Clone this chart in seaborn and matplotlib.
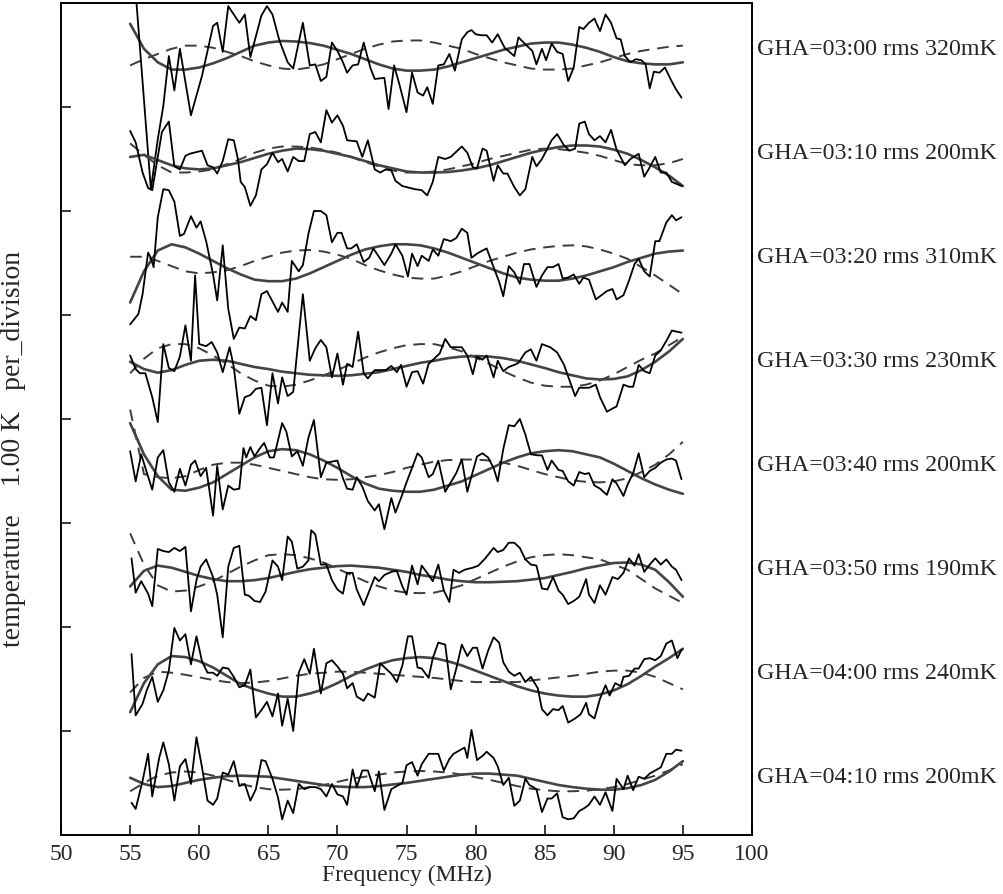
import numpy as np
import pandas as pd
import matplotlib
matplotlib.use("Agg")
import matplotlib.pyplot as plt
import matplotlib.transforms as mtransforms
import seaborn as sns

# ---- labels -------------------------------------------------------------
gha = ["03:00", "03:10", "03:20", "03:30", "03:40", "03:50", "04:00", "04:10"]
rms_mk = [320, 200, 310, 230, 200, 190, 240, 200]

# ---- smooth fits (K, every 1 MHz from 55 to 95) ---------------------------
fit_freq = list(range(55, 96))

solid_0 = [0.30, 0.06, -0.07, -0.14, -0.14, -0.12, -0.08, -0.03, 0.03, 0.09, 0.12, 0.135, 0.13, 0.115, 0.09, 0.05, 0.01, -0.04, -0.09, -0.13, -0.15, -0.15, -0.14, -0.11, -0.07, -0.03, 0.01, 0.05, 0.08, 0.11, 0.12, 0.12, 0.10, 0.07, 0.03, -0.02, -0.06, -0.08, -0.09, -0.09, -0.07]
solid_1 = [0.02, 0.04, -0.01, -0.06, -0.09, -0.10, -0.09, -0.06, -0.03, 0.01, 0.05, 0.08, 0.10, 0.095, 0.08, 0.05, 0.02, -0.02, -0.06, -0.09, -0.12, -0.13, -0.13, -0.125, -0.11, -0.09, -0.06, -0.02, 0.02, 0.06, 0.09, 0.115, 0.13, 0.13, 0.12, 0.09, 0.05, -0.01, -0.08, -0.16, -0.26]
solid_2 = [-0.38, -0.08, 0.12, 0.18, 0.15, 0.09, 0.02, -0.05, -0.11, -0.16, -0.175, -0.175, -0.15, -0.10, -0.04, 0.02, 0.08, 0.13, 0.16, 0.18, 0.18, 0.17, 0.14, 0.10, 0.05, 0.00, -0.05, -0.10, -0.14, -0.16, -0.17, -0.17, -0.15, -0.12, -0.08, -0.04, 0.01, 0.05, 0.09, 0.11, 0.12]
solid_3 = [0.05, -0.02, -0.055, -0.03, 0.02, 0.06, 0.07, 0.06, 0.03, 0.00, -0.02, -0.045, -0.06, -0.075, -0.08, -0.085, -0.08, -0.065, -0.05, -0.02, 0.01, 0.04, 0.06, 0.085, 0.10, 0.105, 0.10, 0.085, 0.06, 0.025, -0.01, -0.05, -0.08, -0.11, -0.12, -0.115, -0.09, -0.03, 0.05, 0.15, 0.27]
solid_4 = [0.46, 0.16, -0.05, -0.18, -0.19, -0.16, -0.11, -0.03, 0.05, 0.13, 0.19, 0.21, 0.20, 0.16, 0.10, 0.03, -0.05, -0.12, -0.17, -0.19, -0.20, -0.20, -0.18, -0.14, -0.10, -0.04, 0.02, 0.08, 0.13, 0.17, 0.19, 0.20, 0.19, 0.16, 0.13, 0.07, 0.00, -0.07, -0.13, -0.18, -0.22]
solid_5 = [-0.11, 0.04, 0.09, 0.07, 0.03, -0.01, -0.04, -0.06, -0.06, -0.05, -0.03, 0.00, 0.03, 0.055, 0.07, 0.085, 0.09, 0.08, 0.07, 0.05, 0.03, 0.00, -0.02, -0.045, -0.06, -0.07, -0.07, -0.065, -0.06, -0.045, -0.03, 0.00, 0.03, 0.065, 0.09, 0.115, 0.12, 0.10, 0.05, -0.07, -0.21]
solid_6 = [-0.32, -0.04, 0.14, 0.22, 0.21, 0.17, 0.11, 0.03, -0.05, -0.10, -0.14, -0.17, -0.17, -0.14, -0.10, -0.04, 0.03, 0.09, 0.14, 0.18, 0.20, 0.21, 0.20, 0.17, 0.13, 0.08, 0.03, -0.02, -0.07, -0.11, -0.14, -0.16, -0.17, -0.17, -0.15, -0.11, -0.05, 0.03, 0.12, 0.20, 0.29]
solid_7 = [0.05, -0.01, -0.04, -0.03, 0.00, 0.03, 0.05, 0.065, 0.07, 0.065, 0.06, 0.04, 0.02, 0.00, -0.02, -0.035, -0.04, -0.04, -0.03, -0.015, 0.00, 0.02, 0.04, 0.06, 0.08, 0.09, 0.09, 0.08, 0.07, 0.04, 0.01, -0.02, -0.04, -0.055, -0.065, -0.065, -0.05, -0.02, 0.03, 0.11, 0.21]

dash_0 = [-0.10, -0.04, 0.01, 0.06, 0.09, 0.09, 0.07, 0.03, -0.01, -0.06, -0.10, -0.13, -0.14, -0.12, -0.09, -0.04, 0.01, 0.06, 0.10, 0.13, 0.14, 0.14, 0.12, 0.09, 0.06, 0.01, -0.03, -0.07, -0.10, -0.13, -0.14, -0.14, -0.13, -0.10, -0.07, -0.03, 0.01, 0.04, 0.06, 0.08, 0.09]
dash_1 = [0.15, 0.04, -0.06, -0.13, -0.13, -0.12, -0.10, -0.05, 0.00, 0.06, 0.10, 0.12, 0.12, 0.11, 0.09, 0.06, 0.02, -0.03, -0.07, -0.11, -0.13, -0.13, -0.12, -0.10, -0.07, -0.04, 0.00, 0.03, 0.06, 0.09, 0.10, 0.095, 0.08, 0.06, 0.03, -0.01, -0.05, -0.06, -0.06, -0.04, 0.00]
dash_2 = [0.06, 0.06, 0.02, -0.03, -0.08, -0.10, -0.09, -0.07, -0.03, 0.02, 0.06, 0.10, 0.12, 0.125, 0.11, 0.08, 0.04, -0.02, -0.07, -0.11, -0.14, -0.15, -0.15, -0.12, -0.08, -0.03, 0.02, 0.06, 0.10, 0.13, 0.15, 0.165, 0.17, 0.16, 0.13, 0.09, 0.04, -0.04, -0.12, -0.21, -0.30]
dash_3 = [-0.06, 0.08, 0.18, 0.22, 0.22, 0.18, 0.11, 0.03, -0.06, -0.13, -0.18, -0.19, -0.17, -0.13, -0.08, -0.03, 0.03, 0.09, 0.14, 0.18, 0.21, 0.22, 0.22, 0.19, 0.15, 0.09, 0.03, -0.04, -0.10, -0.15, -0.18, -0.19, -0.19, -0.17, -0.13, -0.07, 0.00, 0.07, 0.13, 0.21, 0.29]
dash_4 = [0.59, -0.03, -0.06, -0.07, -0.05, 0.01, 0.06, 0.08, 0.08, 0.06, 0.03, 0.00, -0.03, -0.06, -0.08, -0.085, -0.08, -0.06, -0.04, -0.01, 0.03, 0.06, 0.09, 0.105, 0.11, 0.11, 0.10, 0.08, 0.05, 0.01, -0.03, -0.06, -0.09, -0.105, -0.11, -0.10, -0.07, -0.01, 0.06, 0.16, 0.28]
dash_5 = [0.40, 0.10, -0.10, -0.16, -0.15, -0.11, -0.06, 0.01, 0.08, 0.14, 0.19, 0.20, 0.19, 0.16, 0.12, 0.06, 0.00, -0.06, -0.11, -0.15, -0.17, -0.175, -0.17, -0.14, -0.10, -0.04, 0.02, 0.08, 0.13, 0.17, 0.19, 0.20, 0.19, 0.17, 0.15, 0.10, 0.05, -0.04, -0.13, -0.20, -0.27]
dash_6 = [-0.13, 0.01, 0.07, 0.06, 0.04, 0.015, -0.01, -0.03, -0.04, -0.035, -0.02, 0.005, 0.03, 0.05, 0.06, 0.07, 0.07, 0.06, 0.05, 0.04, 0.03, 0.02, 0.01, -0.005, -0.02, -0.03, -0.03, -0.03, -0.03, -0.015, 0.00, 0.015, 0.03, 0.05, 0.07, 0.08, 0.08, 0.06, 0.02, -0.04, -0.10]
dash_7 = [-0.08, 0.00, 0.07, 0.10, 0.11, 0.10, 0.07, 0.03, -0.01, -0.04, -0.06, -0.065, -0.06, -0.04, -0.02, 0.01, 0.04, 0.06, 0.08, 0.10, 0.11, 0.115, 0.11, 0.10, 0.08, 0.055, 0.03, 0.00, -0.03, -0.055, -0.07, -0.08, -0.08, -0.075, -0.06, -0.04, -0.01, 0.03, 0.07, 0.12, 0.18]

# ---- residual spectra (MHz, K) -------------------------------------------
freq_0 = [55.0, 56.5, 57.0, 57.4, 57.8, 58.2, 58.6, 59.4, 60.2, 61.0, 61.3, 61.7, 62.1, 62.9, 63.3, 63.7, 64.5, 64.9, 65.3, 65.8, 66.4, 66.8, 67.5, 68.0, 68.4, 68.8, 69.2, 69.6, 70.0, 70.4, 70.7, 71.1, 71.5, 71.9, 72.4, 72.7, 73.4, 73.7, 74.1, 74.5, 75.0, 75.4, 75.8, 76.2, 76.5, 76.9, 77.3, 77.7, 78.1, 78.5, 79.0, 79.4, 79.7, 80.0, 80.4, 80.8, 81.2, 81.6, 82.1, 82.8, 83.1, 83.7, 84.1, 84.4, 84.8, 85.1, 85.5, 85.9, 86.3, 86.7, 87.1, 87.5, 87.8, 88.2, 88.6, 89.0, 89.4, 89.8, 90.2, 90.5, 90.8, 91.2, 91.6, 92.0, 92.3, 92.6, 92.9, 93.3, 93.7, 94.1, 94.5, 94.9]
temp_0 = [1.29, -1.29, -0.81, -0.49, -0.01, -0.34, 0.06, -0.58, -0.20, 0.28, 0.31, 0.03, 0.47, 0.31, 0.39, -0.02, 0.38, 0.47, 0.39, 0.14, -0.07, -0.13, 0.31, -0.10, -0.09, -0.25, -0.21, 0.12, 0.04, -0.07, -0.17, -0.10, -0.09, 0.12, -0.13, -0.23, -0.22, -0.52, -0.10, -0.29, -0.55, -0.17, -0.36, -0.39, -0.31, -0.47, -0.10, -0.09, 0.01, -0.15, 0.15, 0.22, 0.24, 0.20, 0.19, 0.19, 0.12, 0.20, 0.07, -0.01, 0.17, 0.09, 0.04, -0.09, 0.06, -0.05, 0.11, 0.03, 0.01, -0.25, -0.12, 0.27, 0.25, 0.31, 0.35, 0.23, 0.39, 0.31, 0.16, 0.15, -0.01, -0.07, -0.04, -0.05, -0.09, -0.32, -0.16, -0.17, -0.12, -0.23, -0.33, -0.41]

freq_1 = [55.0, 55.4, 55.9, 56.3, 56.6, 57.3, 57.8, 58.2, 58.6, 59.0, 59.3, 59.6, 60.2, 60.6, 61.0, 61.3, 61.7, 62.1, 62.5, 62.8, 63.0, 63.3, 63.7, 64.1, 64.5, 64.9, 65.3, 65.7, 66.0, 66.4, 66.8, 67.2, 67.6, 68.0, 68.4, 68.8, 69.2, 69.6, 70.0, 70.4, 70.7, 71.4, 71.8, 72.2, 72.7, 73.1, 73.5, 73.9, 74.2, 74.7, 75.6, 76.1, 76.5, 76.9, 77.3, 77.8, 78.2, 79.0, 79.4, 79.8, 80.1, 80.5, 80.8, 81.3, 81.6, 82.0, 82.3, 82.8, 83.2, 83.6, 84.1, 84.4, 84.8, 85.5, 85.9, 86.4, 86.8, 87.2, 87.5, 87.9, 88.2, 88.6, 89.0, 89.4, 89.8, 90.2, 90.8, 91.2, 91.8, 92.2, 92.6, 93.0, 93.4, 93.8, 94.2, 94.9]
temp_1 = [0.27, 0.16, -0.13, -0.28, -0.30, 0.26, 0.36, -0.07, -0.10, 0.03, 0.05, 0.06, 0.08, -0.06, -0.08, -0.14, -0.02, 0.19, 0.18, 0.00, -0.22, -0.27, -0.45, -0.35, -0.10, -0.05, 0.06, -0.03, 0.00, -0.12, 0.02, -0.02, -0.02, 0.24, 0.26, 0.16, 0.47, 0.35, 0.42, 0.32, 0.18, 0.17, 0.02, 0.18, -0.10, -0.13, -0.10, -0.11, -0.21, -0.26, -0.29, -0.30, -0.35, -0.22, 0.02, 0.00, 0.02, 0.12, 0.06, -0.08, -0.09, 0.10, 0.08, -0.21, -0.06, -0.14, -0.14, -0.27, -0.35, -0.29, 0.02, -0.07, 0.00, 0.18, 0.24, 0.13, 0.08, 0.10, 0.34, 0.36, 0.24, 0.18, 0.22, 0.16, 0.28, 0.09, -0.06, 0.00, 0.05, -0.17, -0.08, 0.02, -0.13, -0.13, -0.22, -0.26]

freq_2 = [55.0, 55.6, 55.9, 56.3, 56.5, 56.7, 57.0, 57.4, 57.8, 58.2, 58.6, 58.9, 59.4, 59.8, 60.1, 60.5, 61.0, 61.3, 61.7, 62.1, 62.5, 62.9, 63.3, 63.7, 64.1, 64.5, 64.9, 65.7, 66.0, 66.4, 66.7, 67.2, 67.5, 67.9, 68.3, 68.8, 69.2, 69.6, 70.0, 70.3, 70.7, 71.0, 71.4, 71.9, 72.3, 72.6, 73.1, 73.4, 73.9, 74.2, 74.7, 75.1, 75.4, 75.8, 76.1, 76.6, 76.9, 77.3, 77.7, 78.2, 78.6, 79.0, 79.4, 79.7, 80.1, 80.5, 80.8, 81.3, 81.7, 82.0, 82.4, 82.8, 83.2, 83.5, 83.9, 84.4, 84.8, 85.2, 85.6, 86.0, 86.3, 86.7, 87.1, 87.5, 87.8, 88.2, 88.7, 89.1, 89.5, 89.9, 90.2, 90.7, 91.1, 91.5, 91.8, 92.2, 92.6, 93.0, 93.3, 93.8, 94.2, 94.5, 94.9]
temp_2 = [-0.59, -0.49, -0.30, 0.10, 0.05, -0.04, 0.44, 0.71, 0.70, 0.59, 0.26, 0.28, 0.45, 0.34, 0.40, 0.21, -0.11, -0.36, 0.17, -0.44, -0.73, -0.62, -0.63, -0.51, -0.55, -0.30, -0.27, -0.47, -0.38, -0.47, 0.02, -0.08, -0.02, 0.28, 0.50, 0.50, 0.46, 0.20, 0.29, 0.29, 0.14, 0.14, 0.18, 0.01, 0.05, 0.14, 0.04, -0.02, 0.09, 0.18, 0.07, -0.13, 0.09, -0.03, 0.07, 0.02, 0.13, 0.07, 0.23, 0.21, 0.24, 0.33, 0.29, 0.05, 0.09, 0.12, 0.14, -0.04, -0.18, -0.32, -0.03, -0.09, -0.20, -0.01, -0.01, -0.23, -0.12, -0.04, -0.04, -0.01, -0.15, -0.14, -0.11, -0.20, -0.14, -0.16, -0.35, -0.31, -0.27, -0.25, -0.35, -0.31, -0.17, -0.01, 0.04, -0.08, -0.13, 0.21, 0.21, 0.39, 0.46, 0.41, 0.44]

freq_3 = [55.0, 55.4, 55.7, 56.1, 56.6, 57.0, 57.4, 57.8, 58.2, 58.6, 59.0, 59.4, 59.7, 60.0, 60.5, 60.9, 61.3, 61.7, 62.2, 62.5, 62.9, 63.3, 63.7, 64.1, 64.5, 64.9, 65.3, 65.7, 66.0, 66.4, 66.8, 67.5, 68.0, 68.4, 68.8, 69.2, 69.6, 70.0, 70.4, 70.7, 71.1, 71.5, 71.9, 72.2, 72.7, 73.1, 73.5, 73.9, 74.3, 74.6, 75.0, 75.4, 75.8, 76.2, 76.6, 77.0, 77.4, 77.8, 78.2, 78.6, 79.0, 79.4, 79.8, 80.1, 80.5, 80.8, 81.3, 81.6, 82.0, 82.4, 82.8, 83.1, 83.6, 84.0, 84.4, 84.8, 85.4, 85.9, 86.4, 86.8, 87.2, 87.5, 87.9, 88.2, 88.7, 89.0, 89.5, 89.9, 90.2, 90.7, 91.1, 91.4, 91.8, 92.2, 92.6, 93.0, 93.4, 93.8, 94.2, 94.9]
temp_3 = [0.11, -0.02, -0.06, -0.06, -0.29, -0.53, 0.22, -0.01, -0.04, 0.10, 0.40, 0.06, 0.88, 0.22, 0.20, 0.24, 0.14, -0.05, 0.19, 0.00, -0.45, -0.29, -0.27, -0.21, -0.20, -0.56, -0.06, -0.35, -0.10, -0.28, -0.24, 0.70, 0.06, 0.18, 0.26, 0.19, -0.10, 0.13, -0.17, 0.03, 0.00, 0.34, -0.06, -0.11, -0.03, -0.03, -0.03, 0.01, -0.05, 0.02, -0.19, -0.05, -0.04, -0.16, 0.03, 0.08, 0.13, 0.27, 0.19, 0.19, 0.19, 0.11, -0.07, 0.10, 0.07, 0.11, -0.10, 0.06, -0.04, 0.00, 0.02, 0.04, 0.14, 0.17, 0.06, 0.22, 0.19, 0.14, 0.02, -0.13, -0.28, -0.20, -0.20, -0.20, -0.17, -0.29, -0.43, -0.40, -0.38, -0.17, -0.19, -0.19, 0.02, -0.04, -0.06, 0.11, 0.16, 0.25, 0.35, 0.33]

freq_4 = [55.0, 55.4, 55.8, 56.1, 56.6, 57.0, 57.4, 57.8, 58.2, 58.6, 59.0, 59.4, 59.7, 60.1, 60.5, 61.0, 61.3, 61.7, 62.1, 62.5, 62.9, 63.2, 63.4, 63.7, 64.0, 64.4, 64.7, 65.1, 65.4, 66.0, 66.3, 66.7, 67.1, 67.5, 67.9, 68.3, 68.8, 69.2, 69.6, 70.0, 70.4, 70.7, 71.1, 71.4, 71.8, 72.2, 72.7, 73.0, 73.4, 73.9, 74.2, 74.6, 75.0, 75.4, 75.8, 76.1, 76.6, 76.9, 77.3, 77.8, 78.2, 78.6, 79.0, 79.4, 79.7, 80.1, 80.5, 80.9, 81.3, 81.6, 82.0, 82.4, 82.8, 83.2, 83.6, 84.0, 84.5, 84.8, 85.2, 85.5, 86.0, 86.3, 86.7, 87.1, 87.5, 87.9, 88.2, 88.6, 89.0, 89.5, 89.9, 90.2, 90.7, 91.0, 91.4, 91.8, 92.2, 92.6, 93.0, 93.4, 93.8, 94.2, 94.5, 94.9]
temp_4 = [0.19, -0.10, 0.16, 0.03, -0.18, 0.13, 0.20, -0.11, -0.20, 0.02, -0.14, 0.06, 0.10, -0.05, 0.03, -0.43, 0.05, -0.37, -0.14, -0.18, -0.17, 0.22, 0.13, 0.23, 0.14, 0.22, 0.27, 0.13, 0.13, 0.46, 0.38, 0.14, 0.19, 0.05, 0.32, 0.49, -0.06, 0.08, 0.09, 0.10, -0.07, -0.17, -0.18, -0.06, -0.15, -0.29, -0.38, -0.32, -0.56, -0.26, -0.40, -0.26, -0.11, 0.03, 0.17, 0.13, -0.06, -0.03, 0.10, -0.20, -0.11, -0.02, 0.11, -0.20, -0.05, 0.14, 0.17, 0.13, 0.03, -0.10, 0.21, 0.44, 0.43, 0.50, 0.35, 0.16, 0.15, 0.15, 0.01, 0.10, 0.01, 0.00, -0.10, -0.14, -0.01, -0.03, -0.02, -0.14, -0.17, -0.23, -0.08, -0.12, -0.24, -0.13, -0.02, 0.17, -0.06, 0.00, 0.03, 0.08, 0.11, 0.12, 0.10, -0.08]

freq_5 = [55.1, 55.4, 55.8, 56.3, 56.6, 57.0, 57.4, 57.8, 58.2, 58.6, 59.0, 59.4, 59.8, 60.1, 60.5, 61.0, 61.3, 61.7, 62.1, 62.5, 62.9, 63.3, 63.6, 64.0, 64.4, 64.8, 65.3, 65.7, 66.0, 66.4, 66.7, 67.1, 67.5, 67.9, 68.1, 68.4, 68.8, 69.2, 69.6, 70.0, 70.4, 70.7, 71.1, 71.4, 71.9, 72.2, 72.7, 73.0, 73.4, 73.9, 74.3, 74.7, 75.0, 75.4, 75.8, 76.1, 76.6, 76.9, 77.3, 77.7, 78.1, 78.4, 78.8, 79.2, 79.8, 80.2, 80.7, 81.3, 81.6, 82.0, 82.4, 82.8, 83.2, 83.6, 84.0, 84.4, 84.8, 85.2, 85.6, 86.0, 86.3, 86.7, 87.1, 87.5, 88.0, 88.2, 88.6, 89.0, 89.4, 89.9, 90.3, 90.7, 91.1, 91.5, 91.8, 92.2, 92.6, 93.0, 93.4, 93.8, 94.2, 94.5, 94.9]
temp_5 = [0.16, -0.17, -0.06, -0.18, -0.30, 0.25, 0.23, 0.22, 0.26, 0.23, 0.27, -0.35, -0.05, 0.08, 0.15, -0.02, -0.19, -0.60, 0.08, 0.26, 0.28, -0.19, -0.20, -0.25, -0.26, -0.16, 0.14, 0.08, -0.05, 0.37, 0.32, 0.06, 0.08, 0.14, 0.43, 0.39, 0.10, 0.10, -0.05, -0.14, -0.18, 0.02, 0.02, -0.14, -0.29, -0.19, -0.02, -0.06, 0.00, 0.03, 0.04, -0.11, -0.19, 0.09, -0.09, 0.09, 0.00, -0.06, 0.10, -0.15, -0.26, 0.05, 0.02, 0.05, 0.07, 0.09, 0.16, 0.26, 0.22, 0.24, 0.31, 0.31, 0.26, 0.15, 0.10, 0.09, -0.13, -0.14, -0.02, -0.15, -0.19, -0.28, -0.25, -0.21, -0.04, -0.19, -0.27, -0.10, -0.19, -0.02, -0.04, 0.02, 0.16, 0.09, 0.20, 0.03, 0.10, 0.16, 0.10, 0.15, 0.08, 0.05, -0.05]

freq_6 = [55.1, 55.4, 55.9, 56.2, 56.6, 57.0, 57.4, 57.8, 58.2, 58.6, 59.0, 59.4, 59.8, 60.2, 60.6, 61.0, 61.3, 61.7, 62.1, 62.5, 62.9, 63.3, 63.7, 64.1, 64.5, 64.9, 65.3, 65.7, 66.0, 66.4, 66.8, 67.2, 67.6, 68.0, 68.3, 68.8, 69.2, 69.6, 70.0, 70.4, 70.7, 71.1, 71.4, 71.9, 72.2, 72.7, 73.1, 73.5, 73.9, 74.3, 74.7, 75.1, 75.4, 75.8, 76.1, 76.6, 76.9, 77.3, 77.8, 78.2, 78.6, 79.0, 79.4, 79.8, 80.1, 80.5, 80.9, 81.3, 81.7, 82.0, 82.4, 82.8, 83.2, 83.6, 84.0, 84.5, 84.8, 85.2, 85.6, 86.0, 86.3, 86.7, 87.2, 87.6, 88.0, 88.2, 88.6, 89.0, 89.4, 89.7, 90.1, 90.5, 90.7, 91.1, 91.5, 91.8, 92.2, 92.6, 93.0, 93.4, 93.8, 94.2, 94.6, 94.9]
temp_6 = [0.24, -0.35, -0.24, -0.11, 0.02, -0.22, -0.11, 0.08, 0.49, 0.37, 0.43, 0.14, 0.41, 0.17, 0.06, 0.06, 0.03, 0.11, 0.10, 0.02, -0.08, -0.06, 0.09, -0.37, -0.30, -0.22, -0.36, -0.14, -0.45, -0.19, -0.50, 0.06, 0.19, 0.05, 0.29, -0.14, 0.15, 0.18, 0.12, 0.05, -0.09, -0.04, -0.17, -0.21, -0.14, -0.18, 0.15, 0.10, 0.05, -0.03, 0.13, 0.41, 0.41, 0.11, 0.10, 0.01, 0.20, 0.35, 0.33, -0.10, 0.10, 0.33, 0.22, 0.30, 0.30, 0.10, 0.27, 0.40, 0.35, 0.16, 0.07, 0.03, 0.06, -0.03, 0.02, -0.09, -0.29, -0.35, -0.29, -0.30, -0.26, -0.42, -0.38, -0.34, -0.23, -0.34, -0.38, -0.19, -0.06, -0.16, -0.04, -0.07, 0.02, 0.03, 0.10, 0.10, 0.19, 0.20, 0.18, 0.22, 0.34, 0.37, 0.20, 0.28]

freq_7 = [55.1, 55.4, 55.9, 56.3, 56.6, 57.1, 57.4, 57.8, 58.2, 58.6, 59.0, 59.4, 59.8, 60.2, 60.6, 61.0, 61.3, 61.7, 62.1, 62.5, 62.9, 63.3, 63.7, 64.1, 64.5, 64.8, 65.3, 65.7, 66.0, 66.4, 66.8, 67.2, 67.6, 68.0, 68.4, 68.8, 69.2, 69.6, 70.0, 70.4, 70.7, 71.1, 71.4, 71.8, 72.2, 72.7, 73.0, 73.4, 73.9, 74.3, 74.7, 75.0, 75.4, 75.8, 76.1, 76.6, 76.9, 77.3, 77.7, 78.1, 78.4, 78.8, 79.2, 79.4, 79.7, 80.1, 80.5, 80.8, 81.3, 81.6, 82.0, 82.4, 82.8, 83.2, 83.6, 83.9, 84.4, 84.8, 85.2, 85.5, 85.9, 86.3, 86.7, 87.1, 87.5, 87.9, 88.2, 88.6, 89.0, 89.4, 89.9, 90.2, 90.7, 91.0, 91.4, 91.8, 92.2, 92.6, 93.0, 93.4, 93.8, 94.2, 94.5, 94.9]
temp_7 = [-0.19, -0.25, 0.02, 0.28, -0.13, 0.24, 0.39, 0.18, -0.17, 0.16, 0.23, -0.01, 0.44, 0.15, -0.17, -0.21, -0.15, 0.10, 0.08, 0.21, -0.03, -0.01, -0.17, -0.06, 0.22, 0.21, 0.04, -0.14, -0.35, -0.17, -0.29, -0.01, -0.06, -0.04, -0.04, -0.06, -0.13, -0.01, -0.11, -0.13, -0.21, 0.13, -0.04, 0.12, 0.12, -0.08, 0.11, -0.26, -0.06, -0.03, 0.00, 0.17, 0.20, 0.07, 0.18, 0.28, 0.28, 0.28, 0.12, 0.23, 0.28, 0.31, 0.34, 0.24, 0.51, 0.22, 0.26, 0.30, 0.24, 0.16, -0.02, 0.05, -0.22, -0.17, 0.04, -0.02, -0.06, -0.28, -0.15, -0.15, -0.10, -0.33, -0.35, -0.34, -0.27, -0.24, -0.21, -0.13, -0.21, -0.09, -0.27, 0.04, -0.06, 0.07, -0.07, 0.06, 0.04, 0.09, 0.12, 0.15, 0.28, 0.28, 0.32, 0.31]

freqs = [freq_0, freq_1, freq_2, freq_3, freq_4, freq_5, freq_6, freq_7]
temps = [temp_0, temp_1, temp_2, temp_3, temp_4, temp_5, temp_6, temp_7]
solids = [solid_0, solid_1, solid_2, solid_3, solid_4, solid_5, solid_6, solid_7]
dashes = [dash_0, dash_1, dash_2, dash_3, dash_4, dash_5, dash_6, dash_7]

# traces are stacked 1 K apart, first one at the top
offsets = [7.5 - k for k in range(8)]

sns.set_theme(style="white")
plt.rcParams["font.family"] = ["Liberation Serif", "DejaVu Serif"]
plt.rcParams["axes.edgecolor"] = "black"

fig = plt.figure(figsize=(10.04, 8.95), dpi=100)
ax = fig.add_axes([0.0608, 0.066, 0.6882, 0.9295])

for k in range(8):
    off = offsets[k]
    noisy = pd.DataFrame({"freq": freqs[k], "temp": np.array(temps[k]) + off})
    fits = pd.DataFrame({"freq": fit_freq,
                         "solid": np.array(solids[k]) + off,
                         "dash": np.array(dashes[k]) + off})
    sns.lineplot(data=fits, x="freq", y="dash", ax=ax, color="#3c3c3c",
                 lw=1.4, estimator=None, sort=False)
    ax.lines[-1].set_dashes([6, 4])
    sns.lineplot(data=fits, x="freq", y="solid", ax=ax, color="#444444",
                 lw=1.9, estimator=None, sort=False)
    sns.lineplot(data=noisy, x="freq", y="temp", ax=ax, color="black",
                 lw=1.3, estimator=None, sort=False)

trans = mtransforms.blended_transform_factory(ax.transAxes, ax.transData)
for k in range(8):
    ax.text(1.007, offsets[k] + 0.06, "GHA=%s rms %dmK" % (gha[k], rms_mk[k]),
            transform=trans, ha="left", va="center", fontsize=17.3, clip_on=False)

ax.set_xlim(50, 100)
ax.set_ylim(0, 8)
ax.set_xticks(range(50, 101, 5))
ax.set_yticks(range(1, 8))
ax.set_yticklabels([])
ax.tick_params(axis="x", direction="in", length=7, width=1.3, labelsize=17, pad=6, bottom=True)
ax.tick_params(axis="y", direction="in", length=7, width=1.3, left=True)
for s in ax.spines.values():
    s.set_linewidth(1.4)
    s.set_color("black")

ax.set_xlabel("Frequency (MHz)", fontsize=17, labelpad=0)
ax.set_ylabel("temperature    1.00 K   per_division", fontsize=20)
ax.yaxis.set_label_coords(-0.05, 0.465)

fig.savefig("out.png", dpi=100)
